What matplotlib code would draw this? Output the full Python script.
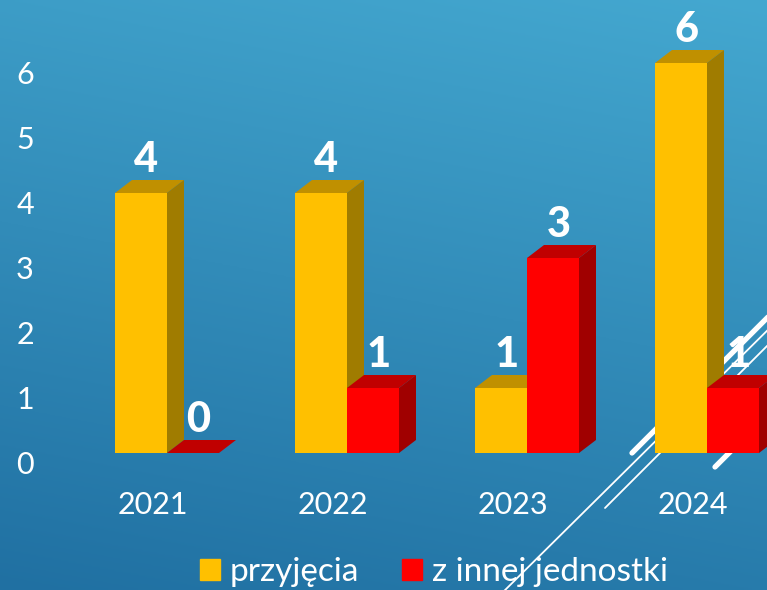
import numpy as np
import matplotlib
matplotlib.use("Agg")
import matplotlib.pyplot as plt
from matplotlib.lines import Line2D
from matplotlib.patches import Patch
from matplotlib import transforms

# dane
lata = ["2021", "2022", "2023", "2024"]
przyjecia = [4, 4, 1, 6]
z_innej = [0, 1, 3, 1]
osie_y = [0, 1, 2, 3, 4, 5, 6]

# kolory
zolty = "#FFC000"
zolty_gora = "#C09000"
zolty_bok = "#A07C00"
czerwony = "#FF0000"
czerwony_gora = "#C00000"
czerwony_bok = "#A00000"
bialy = "white"

W, H = 767, 590
plt.rcParams["font.family"] = ["Lato", "DejaVu Sans"]

fig = plt.figure(figsize=(W / 100, H / 100), dpi=100)

# tlo z gradientem
tlo = fig.add_axes([0, 0, 1, 1])
yy, xx = np.mgrid[0:1:200j, 0:1:200j]
t = 0.8 * yy + 0.2 * (1 - xx)
gora = np.array([68, 168, 208]) / 255
dol = np.array([32, 112, 162]) / 255
img = gora[None, None, :] * (1 - t[..., None]) + dol[None, None, :] * t[..., None]
tlo.imshow(img, extent=[0, 1, 0, 1], aspect="auto", origin="upper")
tlo.set_xlim(0, 1)
tlo.set_ylim(0, 1)
tlo.axis("off")


# ozdobne ukosne linie
def px(x, y):
    return x / W, 1 - y / H


for (x0, y0), (x1, y1), lw in [((495, 600), (790, 308), 1.3),
                               ((605, 508), (790, 323), 1.3),
                               ((632, 453), (780, 305), 3.8),
                               ((715, 467), (780, 402), 3.8)]:
    a, b = px(x0, y0)
    c, d = px(x1, y1)
    tlo.add_line(Line2D([a, c], [b, d], color=bialy, lw=lw,
                        solid_capstyle="round"))

# wykres glowny
ax = fig.add_axes([0, (H - 453) / H, 1, 422.5 / H])
ax.patch.set_alpha(0)
ax.set_xlim(-167 / 180, 600 / 180)
ax.set_ylim(0, 6.5)
for s in ax.spines.values():
    s.set_visible(False)
ax.set_yticks([])

x = np.arange(len(lata))
w = 52 / 180      # szerokosc slupka
dx = 17 / 180     # glebokosc 3D w poziomie
dy = 13 / 65      # glebokosc 3D w pionie


def slupki(lewe, wartosci, przod, gora_k, bok_k, z):
    ax.bar(lewe, wartosci, w, align="edge", color=przod, zorder=z)
    for xl, v in zip(lewe, wartosci):
        ax.fill([xl, xl + w, xl + w + dx, xl + dx],
                [v, v, v + dy, v + dy], color=gora_k, lw=0, zorder=z)
        if v > 0:
            ax.fill([xl + w, xl + w + dx, xl + w + dx, xl + w],
                    [0, dy, v + dy, v], color=bok_k, lw=0, zorder=z)
        ax.text(xl + w / 2 + 0.03, v + 0.32, str(v), color=bialy,
                fontsize=30, fontweight="black", ha="center",
                va="baseline", zorder=10)


slupki(x - w, przyjecia, zolty, zolty_gora, zolty_bok, 3)
slupki(x, z_innej, czerwony, czerwony_gora, czerwony_bok, 4)

# opisy osi
ax.set_xticks(x - 14 / 180)
ax.set_xticklabels(lata, fontsize=22, color=bialy)
ax.tick_params(axis="x", length=0, pad=27)

trans = transforms.blended_transform_factory(ax.transAxes, ax.transData)
for v in osie_y:
    ax.text(25 / W, v - 12 / 65, str(v), transform=trans, color=bialy,
            fontsize=22, ha="center", va="center")

# legenda
uchwyty = [Patch(color=zolty), Patch(color=czerwony)]
fig.legend(uchwyty, ["przyjęcia", "z innej jednostki"], loc="center",
           bbox_to_anchor=(434 / W, 1 - 572 / H), ncol=2, frameon=False,
           labelcolor=bialy, handlelength=0.6, handleheight=0.6,
           handletextpad=0.3, columnspacing=1.3, borderpad=0,
           prop={"size": 24})

fig.savefig("out.png", dpi=100)
